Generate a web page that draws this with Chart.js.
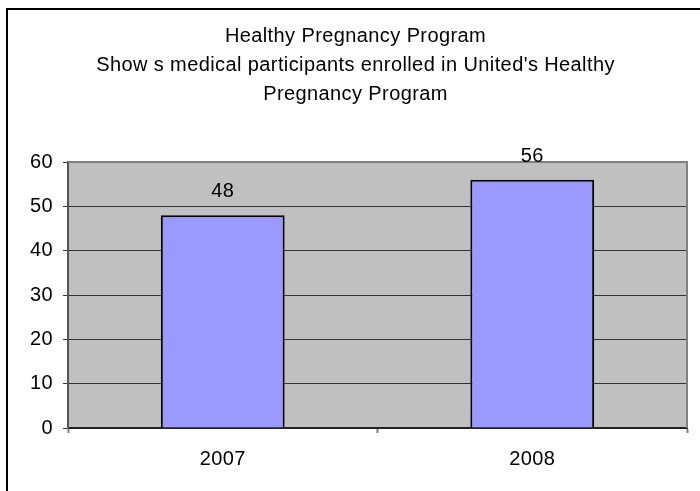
<!DOCTYPE html>
<html>
<head>
<meta charset="utf-8">
<script src="https://cdn.jsdelivr.net/npm/chart.js@4/dist/chart.umd.min.js"></script>
<style>
    body { margin: 0; background: #fff; overflow: hidden; }
    #frame {
        position: absolute;
        left: 6px;
        top: 8px;
        width: 692px;
        height: 481px;
        border-left: 2px solid #000;
        border-top: 2px solid #000;
    }
</style>
</head>
<body>
<div id="frame"><canvas id="pregChart" width="692" height="481"></canvas></div>
<script>
const years = ["2007", "2008"];
const participants = [48, 56];
const titleLines = [
    "Healthy Pregnancy Program",
    "Show s medical participants enrolled in United's Healthy",
    "Pregnancy Program",
];

const FONT = "'Liberation Sans', Arial, sans-serif";

// grey plot background + grey frame on top/right like the old Excel chart
const plotBox = {
    id: "plotBox",
    beforeDraw(chart) {
        const { ctx, chartArea: a } = chart;
        ctx.letterSpacing = "0.4px"; // excel text is a bit wider than arial
        ctx.save();
        ctx.fillStyle = "#c0c0c0";
        ctx.fillRect(a.left, a.top, a.right - a.left, a.bottom - a.top);
        ctx.restore();
    },
    afterDatasetsDraw(chart) {
        const { ctx, chartArea: a } = chart;
        ctx.save();
        ctx.strokeStyle = "#808080";
        ctx.lineWidth = 2;
        ctx.beginPath();
        ctx.moveTo(a.left, a.top);
        ctx.lineTo(a.right, a.top);
        ctx.lineTo(a.right, a.bottom);
        ctx.stroke();
        ctx.restore();
    },
};

// value labels above each bar
const barValues = {
    id: "barValues",
    afterDatasetsDraw(chart) {
        const ctx = chart.ctx;
        const meta = chart.getDatasetMeta(0);
        ctx.save();
        ctx.font = "20px " + FONT;
        ctx.fillStyle = "#000";
        ctx.textAlign = "center";
        ctx.textBaseline = "alphabetic";
        meta.data.forEach((bar, i) => {
            ctx.fillText(participants[i], bar.x, bar.y - 18);
        });
        ctx.restore();
    },
};

function renderChart() {
    const ctx = document.getElementById("pregChart").getContext("2d");

    new Chart(ctx, {
        type: "bar",
        data: {
            labels: years,
            datasets: [
                {
                    data: participants,
                    backgroundColor: "#9999ff",
                    borderColor: "#000",
                    borderWidth: 2,
                    barPercentage: 0.4,
                    categoryPercentage: 1,
                },
            ],
        },
        options: {
            responsive: false,
            animation: false,
            layout: {
                padding: { left: 16, right: 13, top: 0, bottom: 6 },
            },
            scales: {
                x: {
                    grid: {
                        drawOnChartArea: false,
                        tickLength: 5,
                        tickColor: "#808080",
                        tickWidth: 2,
                    },
                    border: { color: "#222", width: 2 },
                    ticks: {
                        color: "#000",
                        padding: 14,
                        font: { family: FONT, size: 20 },
                    },
                },
                y: {
                    min: 0,
                    max: 60,
                    afterFit: (scale) => {
                        scale.width = 44;
                    },
                    grid: {
                        color: "#333",
                        lineWidth: 1,
                        tickLength: 5,
                        tickColor: "#333",
                    },
                    border: { color: "#555", width: 2 },
                    ticks: {
                        stepSize: 10,
                        color: "#000",
                        padding: 10,
                        font: { family: FONT, size: 20 },
                    },
                },
            },
            plugins: {
                legend: { display: false },
                tooltip: { enabled: false },
                title: {
                    display: true,
                    text: titleLines,
                    color: "#000",
                    font: { family: FONT, size: 20, weight: "normal", lineHeight: "29px" },
                    padding: { top: 12, bottom: 53 },
                },
            },
        },
        plugins: [plotBox, barValues],
    });
}

renderChart();
</script>
</body>
</html>
